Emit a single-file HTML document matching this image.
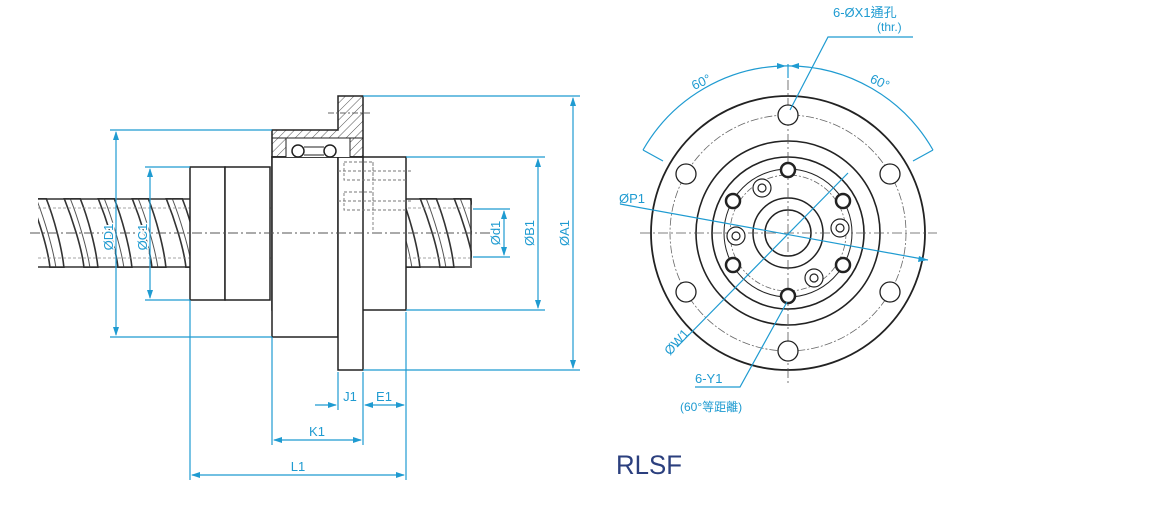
<!DOCTYPE html>
<html><head><meta charset="utf-8"><style>
html,body{margin:0;padding:0;background:#fff;}
svg{display:block;}
text{font-family:"Liberation Sans","Noto Sans CJK TC",sans-serif;fill:#1f9bd1;}
.bk{stroke:#fff;stroke-width:3px;paint-order:stroke;}
</style></head><body>
<svg width="1170" height="516" viewBox="0 0 1170 516" xmlns="http://www.w3.org/2000/svg">
<defs>
<clipPath id="sl"><rect x="38" y="198" width="152" height="70"/></clipPath>
<clipPath id="sr"><rect x="406" y="198" width="66" height="70"/></clipPath>
<pattern id="hat" width="6" height="6" patternUnits="userSpaceOnUse" patternTransform="rotate(45)"><line x1="0" y1="0" x2="0" y2="6" stroke="#555" stroke-width="1"/></pattern>
<g id="thread">
  <path d="M0,0 C8,20 18,50 20,70 L34,70 C32,50 24,20 16,0 Z" fill="#fff" stroke="#333" stroke-width="1.6"/>
  <path d="M6,0 C14,20 23,50 26,70" fill="none" stroke="#555" stroke-width="1"/>
</g>
</defs>
<g clip-path="url(#sl)">
<rect x="38" y="198" width="152" height="70" fill="#fff"/>
<use href="#thread" x="-4" y="198"/><use href="#thread" x="30" y="198"/><use href="#thread" x="64" y="198"/><use href="#thread" x="98" y="198"/><use href="#thread" x="132" y="198"/><use href="#thread" x="166" y="198"/>
<line x1="38" y1="199" x2="190" y2="199" stroke="#333" stroke-width="1.5"/>
<line x1="38" y1="267" x2="190" y2="267" stroke="#333" stroke-width="1.5"/>
</g>
<g clip-path="url(#sr)">
<use href="#thread" x="386" y="198"/><use href="#thread" x="420" y="198"/><use href="#thread" x="454" y="198"/>
<line x1="406" y1="199" x2="472" y2="199" stroke="#333" stroke-width="1.5"/>
<line x1="406" y1="267" x2="472" y2="267" stroke="#333" stroke-width="1.5"/>
</g>
<line x1="471" y1="200" x2="471" y2="266" stroke="#333" stroke-width="1.5"/>
<line x1="38" y1="208" x2="470" y2="208" stroke="#888" stroke-width="0.8" stroke-dasharray="3,2"/>
<line x1="38" y1="258" x2="470" y2="258" stroke="#888" stroke-width="0.8" stroke-dasharray="3,2"/>
<g stroke="#222" stroke-width="1.5" fill="#fff">
<rect x="190" y="167" width="35" height="133"/>
<rect x="225" y="167" width="45" height="133"/>
<rect x="272" y="157" width="134" height="153"/>
<rect x="272" y="157" width="66" height="180"/>
<rect x="338" y="157" width="25" height="213"/>
<path d="M272,157 V130 H338 V96 H363 V157 Z" fill="url(#hat)"/>
</g>
<rect x="286" y="138" width="64" height="19" fill="#fff"/>
<circle cx="298" cy="151" r="6" fill="#fff" stroke="#222" stroke-width="1.5"/>
<circle cx="330" cy="151" r="6" fill="#fff" stroke="#222" stroke-width="1.5"/>
<line x1="304" y1="147" x2="324" y2="147" stroke="#222"/><line x1="304" y1="155" x2="324" y2="155" stroke="#222"/>
<line x1="286" y1="138" x2="286" y2="157" stroke="#222"/><line x1="350" y1="138" x2="350" y2="157" stroke="#222"/>
<line x1="272" y1="138" x2="363" y2="138" stroke="#222" stroke-width="1"/>
<line x1="328" y1="113" x2="372" y2="113" stroke="#666" stroke-dasharray="6,2,2,2"/>
<g stroke="#777" stroke-width="0.9" stroke-dasharray="3,2" fill="none">
<path d="M344,162 H373 V180 H344 Z"/><path d="M344,192 H373 V210 H344 Z"/>
<line x1="373" y1="162" x2="373" y2="232"/><line x1="373" y1="180" x2="406" y2="180"/><line x1="373" y1="210" x2="406" y2="210"/>
<line x1="338" y1="171" x2="411" y2="171"/><line x1="338" y1="201" x2="411" y2="201"/>
</g>
<line x1="30" y1="233" x2="490" y2="233" stroke="#555" stroke-width="0.9" stroke-dasharray="10,3,2,3"/>
<g stroke="#1f9bd1" stroke-width="1.2" fill="none">
<line x1="110" y1="130" x2="272" y2="130"/><line x1="110" y1="337" x2="272" y2="337"/>
<line x1="116" y1="132" x2="116" y2="335"/>
<line x1="145" y1="167" x2="190" y2="167"/><line x1="145" y1="300" x2="190" y2="300"/>
<line x1="150" y1="169" x2="150" y2="298"/>
<line x1="473" y1="209" x2="510" y2="209"/><line x1="473" y1="257" x2="510" y2="257"/>
<line x1="504" y1="211" x2="504" y2="255"/>
<line x1="406" y1="157" x2="545" y2="157"/><line x1="406" y1="310" x2="545" y2="310"/>
<line x1="538" y1="159" x2="538" y2="308"/>
<line x1="363" y1="96" x2="580" y2="96"/><line x1="363" y1="370" x2="580" y2="370"/>
<line x1="573" y1="98" x2="573" y2="368"/>
<line x1="338" y1="372" x2="338" y2="410"/><line x1="363" y1="372" x2="363" y2="445"/>
<line x1="406" y1="312" x2="406" y2="480"/><line x1="272" y1="337" x2="272" y2="445"/>
<line x1="190" y1="300" x2="190" y2="480"/>
<line x1="315" y1="405" x2="336" y2="405"/><line x1="365" y1="405" x2="404" y2="405"/>
<line x1="274" y1="440" x2="361" y2="440"/><line x1="192" y1="475" x2="404" y2="475"/>
</g>
<g fill="#1f9bd1">
<path d="M116,131 l-3,9 h6z"/><path d="M116,336 l-3,-9 h6z"/>
<path d="M150,168 l-3,9 h6z"/><path d="M150,299 l-3,-9 h6z"/>
<path d="M504,210 l-3,9 h6z"/><path d="M504,256 l-3,-9 h6z"/>
<path d="M538,158 l-3,9 h6z"/><path d="M538,309 l-3,-9 h6z"/>
<path d="M573,97 l-3,9 h6z"/><path d="M573,369 l-3,-9 h6z"/>
<path d="M337,405 l-9,-3 v6z"/><path d="M364,405 l9,-3 v6z"/><path d="M405,405 l-9,-3 v6z"/>
<path d="M273,440 l9,-3 v6z"/><path d="M362,440 l-9,-3 v6z"/>
<path d="M191,475 l9,-3 v6z"/><path d="M405,475 l-9,-3 v6z"/>
</g>
<g font-size="13">
<text class="bk" transform="translate(113,237) rotate(-90)" text-anchor="middle">ØD1</text>
<text class="bk" transform="translate(147,237) rotate(-90)" text-anchor="middle">ØC1</text>
<text transform="translate(500,233) rotate(-90)" text-anchor="middle">Ød1</text>
<text transform="translate(534,233) rotate(-90)" text-anchor="middle">ØB1</text>
<text transform="translate(569,233) rotate(-90)" text-anchor="middle">ØA1</text>
<text x="350" y="401" text-anchor="middle">J1</text>
<text x="384" y="401" text-anchor="middle">E1</text>
<text x="317" y="436" text-anchor="middle">K1</text>
<text x="298" y="471" text-anchor="middle">L1</text>
</g>
<g fill="none" stroke="#222">
<circle cx="788" cy="233" r="137" stroke-width="1.8"/>
<circle cx="788" cy="233" r="118" stroke="#666" stroke-width="0.8" stroke-dasharray="8,2,2,2"/>
<circle cx="788" cy="233" r="92" stroke-width="1.6"/>
<circle cx="788" cy="233" r="76" stroke-width="1.6"/>
<circle cx="788" cy="233" r="64" stroke-width="1"/>
<circle cx="788" cy="233" r="58" stroke="#666" stroke-width="0.8" stroke-dasharray="6,2,2,2"/>
<circle cx="788" cy="233" r="35" stroke-width="1.5"/>
<circle cx="788" cy="233" r="23" stroke-width="1.5"/>
</g>
<line x1="640" y1="233" x2="937" y2="233" stroke="#555" stroke-width="0.8" stroke-dasharray="10,3,2,3"/>
<line x1="788" y1="80" x2="788" y2="385" stroke="#555" stroke-width="0.8" stroke-dasharray="10,3,2,3"/>
<g fill="#fff" stroke="#222" stroke-width="1.3">
<circle cx="788" cy="115" r="10"/><circle cx="788" cy="351" r="10"/>
<circle cx="686" cy="174" r="10"/><circle cx="890" cy="174" r="10"/>
<circle cx="686" cy="292" r="10"/><circle cx="890" cy="292" r="10"/>
</g>
<g fill="#fff" stroke="#222" stroke-width="2.5">
<circle cx="788" cy="170" r="7"/><circle cx="788" cy="296" r="7"/>
<circle cx="733" cy="201" r="7"/><circle cx="843" cy="201" r="7"/>
<circle cx="733" cy="265" r="7"/><circle cx="843" cy="265" r="7"/>
</g>
<g fill="#fff" stroke="#222" stroke-width="1.2">
<circle cx="762" cy="188" r="9"/><circle cx="762" cy="188" r="4"/>
<circle cx="840" cy="228" r="9"/><circle cx="840" cy="228" r="4"/>
<circle cx="736" cy="236" r="9"/><circle cx="736" cy="236" r="4"/>
<circle cx="814" cy="278" r="9"/><circle cx="814" cy="278" r="4"/>
</g>
<g stroke="#1f9bd1" stroke-width="1.2" fill="none">
<path d="M643,150 A167,167 0 0 1 933,150"/>
<line x1="643" y1="150" x2="663" y2="161"/><line x1="933" y1="150" x2="913" y2="161"/>
<line x1="788" y1="64" x2="788" y2="78"/>
<polyline points="790,110 828,37 913,37"/>
<line x1="620" y1="204" x2="928" y2="260"/>
<line x1="848" y1="173" x2="677" y2="347"/>
<polyline points="787,302 740,387 695,387"/>
</g>
<g fill="#1f9bd1">
<path d="M928,260 l-9,-4 l-1,6z"/>
<path d="M786,66 l-9,-3 v6z"/><path d="M790,66 l9,-3 v6z"/>
</g>
<g font-size="13">
<text x="833" y="17">6-ØX1通孔</text>
<text x="877" y="31" font-size="12">(thr.)</text>
<text transform="translate(703,86) rotate(-25)" text-anchor="middle">60°</text>
<text transform="translate(878,86) rotate(25)" text-anchor="middle">60°</text>
<text x="619" y="203">ØP1</text>
<text transform="translate(670,356) rotate(-48)">ØW1</text>
<text x="695" y="383">6-Y1</text>
<text x="680" y="411" font-size="12">(60°等距離)</text>
</g>
<text x="616" y="474" font-size="27" textLength="66" lengthAdjust="spacingAndGlyphs" style="fill:#2b3f7e">RLSF</text>
</svg>
</body></html>
